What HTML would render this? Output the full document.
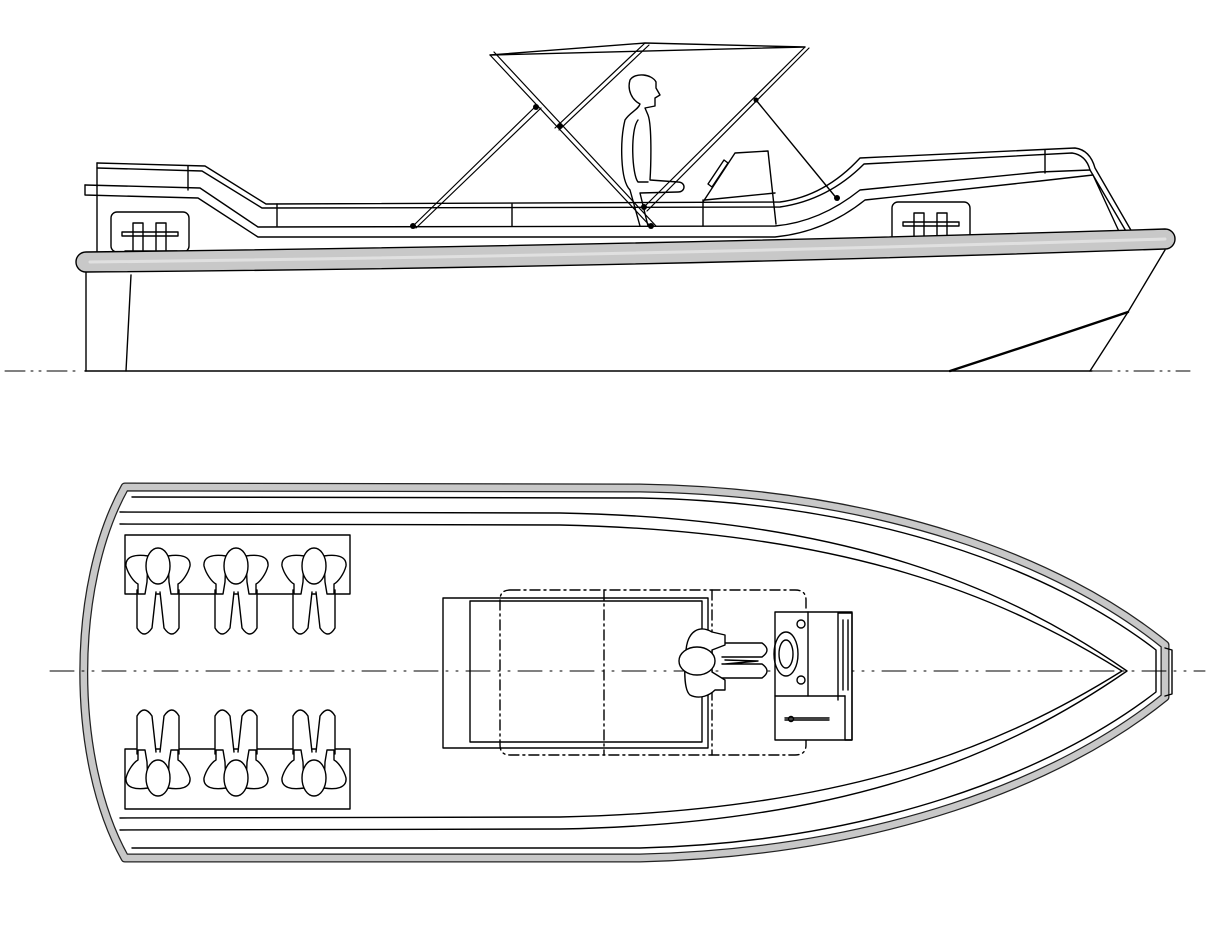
<!DOCTYPE html>
<html><head><meta charset="utf-8"><style>html,body{margin:0;padding:0;background:#fff}svg{display:block}</style></head>
<body>
<svg width="1228" height="944" viewBox="0 0 1228 944" xmlns="http://www.w3.org/2000/svg" fill="none" stroke="#000" stroke-width="1.4" stroke-linejoin="round" stroke-linecap="round">
<defs>
<g id="p">
  <path d="M-21,20 L-21,58 Q-14,70 -6,58 L-2,22" fill="#fff"/>
  <path d="M21,20 L21,58 Q14,70 6,58 L2,22" fill="#fff"/>
  <path d="M-10,-14 C-22,-16 -33,-14 -32,-4 C-30,4 -24,12 -20,14 L-20,24 L-13,24 L-11,12 Z" fill="#fff"/>
  <path d="M10,-14 C22,-16 33,-14 32,-4 C30,4 24,12 20,14 L20,24 L13,24 L11,12 Z" fill="#fff"/>
  <ellipse cx="0" cy="-4" rx="12" ry="18" fill="#fff"/>
</g>
</defs>

<!-- SIDE VIEW -->
<line x1="5" y1="371" x2="80" y2="371" stroke-dasharray="20,6,2,6,2,6" stroke-width="1"/>
<line x1="85" y1="371" x2="1092" y2="371"/>
<line x1="1092" y1="371" x2="1190" y2="371" stroke-dasharray="20,6,2,6,2,6" stroke-width="1"/>
<line x1="86" y1="268" x2="86" y2="371"/>
<line x1="131" y1="275" x2="126" y2="371"/>
<path d="M1165,250 L1128,312 L1090,371"/>
<path d="M1128,312 Q1030,345 950,371" stroke-width="2.4"/>
<path d="M97,185 L97,255"/>
<path d="M85,185 L200,188 L258,227 L775,226 Q820,222 860,190 L1040,172 L1090,170"/>
<path d="M85,185 L85,195 L198,198 L258,237 L775,237 Q825,232 865,200 L1040,181 L1093,175"/>
<path d="M1090,170 L1130,238 M1093,175 L1122,238"/>
<path d="M97,163 L205,166 L266,204 L780,202 Q825,196 860,158 L1075,148 Q1090,150 1095,168 L1132,232"/>
<path d="M97,168 L202,171 L262,208 L780,207 Q828,200 864,164 L1072,153 Q1086,155 1090,170"/>
<path d="M97,163 L97,186 M188,166 L188,190 M277,204 L277,226 M512,204 L512,226 M1045,150 L1045,173"/>
<rect x="111" y="212" width="78" height="40" rx="6" fill="#fff"/>
<path d="M122,232 L178,232 L178,236 L122,236 Z M133,223 h10 v28 h-10 Z M156,223 h10 v28 h-10 Z M125,251 h52" fill="#fff"/>
<rect x="892" y="202" width="78" height="40" rx="6" fill="#fff"/>
<path d="M903,222 L959,222 L959,226 L903,226 Z M914,213 h10 v28 h-10 Z M937,213 h10 v28 h-10 Z M906,241 h52" fill="#fff"/>
<path d="M86,252 Q620,246 1165,229 A10,10 0 0 1 1165,249 Q620,268 86,272 A10,10 0 0 1 86,252 Z" fill="#c8c8c8"/>
<path d="M90,262 Q620,256 1165,239" stroke="#e0e0e0" stroke-width="3"/>
<path d="M703,200 L703,226 M703,202 L735,153 L768,151 L776,224 M705,200 L775,193"/>
<path d="M708,184 L724,160 L728,163 L712,187 Z"/>
<path d="M630,190 C620,180 620,140 625,120 C630,112 638,110 640,104 C632,100 627,90 630,80 C635,72 652,74 656,82 L656,88 L660,95 L655,98 L655,106 L645,108 L648,115 C652,125 651,165 650,180 L678,182 C686,182 686,192 678,192 L640,193 L648,226 M630,190 L640,226"/>
<path d="M638,120 C630,130 632,175 638,182 L648,182"/>
<path d="M490,55 L645,43 L805,47 L490,55"/>
<path d="M490,55 L652,228 M494,52 L656,226" stroke-width="1.2"/>
<path d="M645,43 L555,128 M649,45 L559,130" stroke-width="1.2"/>
<path d="M537,105 L412,227 M541,108 L416,228" stroke-width="1.2"/>
<path d="M805,47 L643,208 M809,48 L647,211" stroke-width="1.2"/>
<path d="M756,100 L838,200"/>
<g fill="#000" stroke="none"><circle cx="536" cy="107" r="3"/><circle cx="560" cy="126" r="3"/><circle cx="413" cy="226" r="3"/><circle cx="651" cy="226" r="3"/><circle cx="644" cy="207" r="3"/><circle cx="756" cy="100" r="2.5"/><circle cx="837" cy="198" r="3"/></g>

<!-- TOP VIEW -->
<path id="hull" d="M125,487 L640,488 C880,492 1060,560 1165,645 L1165,697 C1060,782 880,852 640,858 L125,858 C70,760 70,585 125,487 Z" stroke="#222" stroke-width="9"/>
<path d="M125,487 L640,488 C880,492 1060,560 1165,645 L1165,697 C1060,782 880,852 640,858 L125,858 C70,760 70,585 125,487 Z" stroke="#c8c8c8" stroke-width="6.5"/>
<path d="M1165,648 L1172,650 L1172,694 L1165,696"/>
<path d="M132,497 L640,498 C870,502 1050,568 1156,650 L1156,692 C1050,774 870,842 640,848 L132,848"/>
<path d="M120,512 L560,513 C850,518 1010,590 1127,671 C1010,752 850,824 560,829 L120,830"/>
<path d="M120,524 L560,525 C850,531 1005,598 1122,671 C1005,744 850,811 560,817 L120,818"/>
<line x1="50" y1="671" x2="1205" y2="671" stroke-dasharray="24,8,2,8,2,8" stroke-width="1"/>
<rect x="125" y="535" width="225" height="59" fill="#fff"/>
<rect x="125" y="749" width="225" height="60" fill="#fff"/>
<use href="#p" transform="translate(158,570)"/>
<use href="#p" transform="translate(236,570)"/>
<use href="#p" transform="translate(314,570)"/>
<use href="#p" transform="translate(158,774) scale(1,-1)"/>
<use href="#p" transform="translate(236,774) scale(1,-1)"/>
<use href="#p" transform="translate(314,774) scale(1,-1)"/>
<rect x="443" y="598" width="265" height="150"/>
<rect x="470" y="601" width="232" height="141"/>
<path d="M510,590 L795,590 Q806,590 806,600 L806,745 Q806,755 795,755 L510,755 Q500,755 500,745 L500,600 Q500,590 510,590 Z" stroke-dasharray="10,4,2,4"/>
<line x1="604" y1="590" x2="604" y2="755" stroke-dasharray="10,4,2,4"/>
<line x1="712" y1="590" x2="712" y2="755" stroke-dasharray="10,4,2,4"/>
<path d="M722,643 L762,643 Q772,650 762,657 L722,657 M722,664 L762,664 Q772,671 762,678 L722,678 M725,660 L758,661 L725,664" fill="#fff"/>
<path d="M712,632 C700,625 688,630 686,650 C684,670 684,690 690,695 C700,700 710,695 715,690 L725,690 L725,680 L712,672 L712,650 L725,645 L725,635 Z" fill="#fff"/>
<ellipse cx="697" cy="661" rx="18" ry="14" fill="#fff"/>
<rect x="775" y="612" width="77" height="128" fill="#fff"/>
<line x1="775" y1="696" x2="845" y2="696"/>
<line x1="808" y1="612" x2="808" y2="696"/>
<path d="M838,613 L852,613 L852,740 L845,740 L845,696 M838,613 L838,700 M843,620 L843,690 M848,620 L848,690"/>
<ellipse cx="786" cy="654" rx="12" ry="22"/><ellipse cx="786" cy="654" rx="7" ry="14"/>
<circle cx="801" cy="624" r="4"/><circle cx="801" cy="680" r="4"/>
<path d="M785,718 L829,718 M785,720 L829,720"/><circle cx="791" cy="719" r="2.5"/>
</svg>
</body></html>
